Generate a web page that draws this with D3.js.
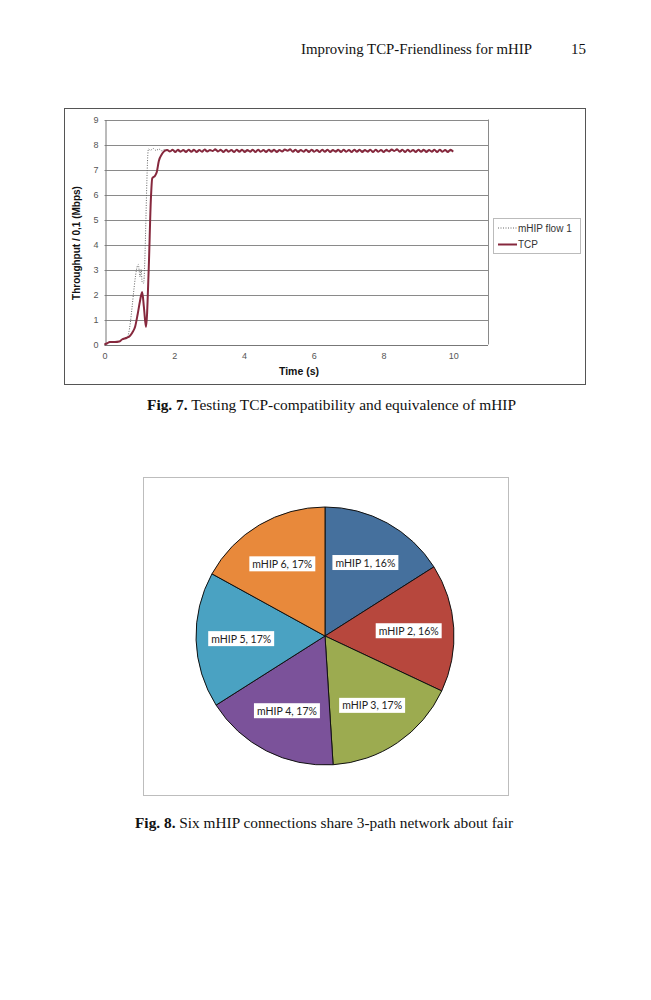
<!DOCTYPE html>
<html><head><meta charset="utf-8">
<script src="https://cdn.jsdelivr.net/npm/d3@7"></script>
<style>body{margin:0;background:#fff}svg{display:block}</style>
</head><body>
<svg id="page" width="651" height="1000"></svg>
<script>
// ---------- Fig. 7 data ----------
const xTicks = [0, 2, 4, 6, 8, 10];
const yTicks = [0, 1, 2, 3, 4, 5, 6, 7, 8, 9];
const seriesNames = ["mHIP flow 1", "TCP"];

const tcpEarlyT = [0, 0.08, 0.15, 0.3, 0.42, 0.5, 0.64, 0.72, 0.8, 0.88, 0.95, 1.02, 1.08, 1.13, 1.19, 1.27, 1.33, 1.37, 1.45, 1.5, 1.56, 1.64, 1.72];
const tcpEarlyV = [0, 0.05, 0.1, 0.1, 0.12, 0.2, 0.27, 0.33, 0.48, 0.72, 1.2, 1.75, 2.1, 1.5, 0.7, 3.1, 5.8, 6.65, 6.75, 6.9, 7.35, 7.6, 7.74];
const tcpSteadyStart = 1.8, tcpSteadyEnd = 10.0;
const tcpSteadyV = [
  7.78, 7.72, 7.79, 7.70, 7.79, 7.71, 7.78, 7.70, 7.79, 7.71,
  7.79, 7.70, 7.78, 7.71, 7.80, 7.72, 7.78, 7.74, 7.81, 7.72,
  7.79, 7.70, 7.79, 7.71, 7.78, 7.70, 7.79, 7.71, 7.79, 7.70,
  7.78, 7.71, 7.79, 7.70, 7.79, 7.71, 7.78, 7.70, 7.79, 7.71,
  7.79, 7.70, 7.78, 7.72, 7.80, 7.75, 7.81, 7.71, 7.79, 7.70,
  7.78, 7.71, 7.79, 7.70, 7.79, 7.71, 7.78, 7.70, 7.79, 7.71,
  7.79, 7.70, 7.78, 7.71, 7.79, 7.70, 7.79, 7.71, 7.78, 7.70,
  7.79, 7.71, 7.79, 7.70, 7.78, 7.71, 7.79, 7.70, 7.79, 7.71,
  7.78, 7.70, 7.79, 7.72, 7.80, 7.74, 7.81, 7.71, 7.79, 7.70,
  7.79, 7.71, 7.78, 7.70, 7.79, 7.71, 7.79, 7.70, 7.78, 7.71,
  7.79, 7.70, 7.79, 7.71, 7.78, 7.70, 7.79, 7.71
];

const mhipEarlyT = [0, 0.08, 0.15, 0.3, 0.42, 0.5, 0.66, 0.97, 1.02, 1.05, 1.08, 1.12, 1.26, 1.32, 1.4, 1.48, 1.56, 1.64, 1.72];
const mhipEarlyV = [0, 0.05, 0.1, 0.1, 0.12, 0.2, 0.32, 3.2, 2.7, 3.0, 2.5, 2.45, 7.82, 7.77, 7.84, 7.76, 7.82, 7.75, 7.8];
const mhipSteadyStart = 1.8, mhipSteadyEnd = 10.0;
const mhipSteadyV = [
  7.76, 7.74, 7.77, 7.73, 7.76, 7.75, 7.77, 7.73, 7.76, 7.74,
  7.77, 7.74, 7.76, 7.73, 7.77, 7.75, 7.76, 7.74, 7.77, 7.73,
  7.76, 7.74, 7.77, 7.73, 7.76, 7.75, 7.77, 7.73, 7.76, 7.74,
  7.77, 7.74, 7.76, 7.73, 7.77, 7.75, 7.76, 7.74, 7.77, 7.73,
  7.76, 7.74, 7.77, 7.73, 7.76, 7.75, 7.77, 7.73, 7.76, 7.74,
  7.77, 7.74, 7.76, 7.73, 7.77, 7.75, 7.76, 7.74, 7.77, 7.73,
  7.76, 7.74, 7.77, 7.73, 7.76, 7.75, 7.77, 7.73, 7.76, 7.74,
  7.77, 7.74, 7.76, 7.73, 7.77, 7.75, 7.76, 7.74, 7.77, 7.73,
  7.76, 7.74, 7.76
];

// ---------- Fig. 8 data ----------
const pieLabels = ["mHIP 1", "mHIP 2", "mHIP 3", "mHIP 4", "mHIP 5", "mHIP 6"];
const pieValues = [16, 16, 17, 17, 17, 17];
const pieColors = ["#45709d", "#b7473d", "#9cab50", "#7b529a", "#4aa2c2", "#e8893b"];

// ---------- page text ----------
const headerText = "Improving TCP-Friendliness for mHIP";
const pageNumber = "15";
const caption7 = ["Fig. 7.", " Testing TCP-compatibility and equivalence of mHIP"];
const caption8 = ["Fig. 8.", " Six mHIP connections share 3-path network about fair"];

const svg = d3.select("#page");
const serif = "'Liberation Serif','DejaVu Serif',serif";
const sans = "'Liberation Sans',Arial,sans-serif";

// header
svg.append("text").attr("x", 301).attr("y", 54).attr("font-family", serif).attr("font-size", 15)
  .attr("textLength", 231).attr("lengthAdjust", "spacingAndGlyphs").attr("fill", "#111").text(headerText);
svg.append("text").attr("x", 586).attr("y", 54).attr("text-anchor", "end").attr("font-family", serif)
  .attr("font-size", 15).attr("fill", "#111").text(pageNumber);

// ---------- Fig 7 ----------
const box1 = {x: 64, y: 108, w: 521, h: 276};
svg.append("rect").attr("x", box1.x + 0.5).attr("y", box1.y + 0.5).attr("width", box1.w).attr("height", box1.h)
  .attr("fill", "#fff").attr("stroke", "#555").attr("stroke-width", 1);

const plot = {l: 104.5, r: 488, t: 119.5, b: 344.5};
const x = d3.scaleLinear().domain([0, 11]).range([plot.l, plot.r]);
const y = d3.scaleLinear().domain([0, 9]).range([plot.b, plot.t]);

const g1 = svg.append("g");
g1.selectAll("line.grid").data(yTicks.filter(d => d > 0)).join("line")
  .attr("x1", plot.l).attr("x2", plot.r).attr("y1", d => Math.round(y(d)) + 0.5).attr("y2", d => Math.round(y(d)) + 0.5)
  .attr("stroke", "#8a8a8a").attr("stroke-width", 1);
g1.append("line").attr("x1", plot.r + 0.5).attr("x2", plot.r + 0.5).attr("y1", plot.t).attr("y2", plot.b)
  .attr("stroke", "#8a8a8a");

const xAxis = d3.axisBottom(x).tickValues(xTicks).tickSize(0).tickPadding(7);
const yAxis = d3.axisLeft(y).tickValues(yTicks).tickSize(0).tickPadding(7);
const gx = svg.append("g").attr("transform", `translate(0,${Math.round(plot.b) + 0.5})`).call(xAxis);
const gy = svg.append("g").attr("transform", `translate(${Math.round(plot.l) + 0.5},0)`).call(yAxis);
[gx, gy].forEach(g => {
  g.select(".domain").attr("stroke", "#777");
  g.selectAll("text").attr("font-family", sans).attr("font-size", 9).attr("fill", "#555");
});
gx.select(".domain").attr("d", `M${plot.l},0H${plot.r}`);

svg.append("text").attr("transform", `translate(80,243) rotate(-90)`).attr("text-anchor", "middle")
  .attr("font-family", sans).attr("font-weight", "bold").attr("font-size", 10).attr("fill", "#111")
  .text("Throughput / 0,1 (Mbps)");
svg.append("text").attr("x", 299).attr("y", 375).attr("text-anchor", "middle")
  .attr("font-family", sans).attr("font-weight", "bold").attr("font-size", 10.5).attr("fill", "#111")
  .text("Time (s)");

function buildSeries(earlyT, earlyV, start, end, steady) {
  const pts = earlyT.map((t, i) => [t, earlyV[i]]);
  const n = steady.length;
  steady.forEach((v, i) => pts.push([start + (end - start) * i / (n - 1), v]));
  return pts;
}
const mhipPts = buildSeries(mhipEarlyT, mhipEarlyV, mhipSteadyStart, mhipSteadyEnd, mhipSteadyV);
const tcpPts = buildSeries(tcpEarlyT, tcpEarlyV, tcpSteadyStart, tcpSteadyEnd, tcpSteadyV);

const tcpColor = "#86283d";
const line = d3.line().x(d => x(d[0])).y(d => y(d[1])).curve(d3.curveMonotoneX);
svg.append("path").datum(mhipPts).attr("d", line).attr("fill", "none")
  .attr("stroke", "#666").attr("stroke-width", 1).attr("stroke-dasharray", "1,1.5");
svg.append("path").datum(tcpPts).attr("d", line).attr("fill", "none")
  .attr("stroke", tcpColor).attr("stroke-width", 2).attr("stroke-linejoin", "round");

const lg = svg.append("g");
lg.append("rect").attr("x", 493.5).attr("y", 218.5).attr("width", 87).attr("height", 35)
  .attr("fill", "#fff").attr("stroke", "#bbb");
const legendStyles = [{dash: "1,1.5", color: "#666", w: 1}, {dash: null, color: tcpColor, w: 2}];
seriesNames.forEach((name, i) => {
  const yy = 228 + i * 16.5;
  lg.append("line").attr("x1", 498).attr("x2", 517).attr("y1", yy).attr("y2", yy)
    .attr("stroke", legendStyles[i].color).attr("stroke-width", legendStyles[i].w)
    .attr("stroke-dasharray", legendStyles[i].dash);
  lg.append("text").attr("x", 518).attr("y", yy + 3.5).attr("font-family", sans).attr("font-size", 10)
    .attr("fill", "#333").text(name);
});

function caption(parts, x0, yb, len) {
  const t = svg.append("text").attr("x", x0).attr("y", yb).attr("font-family", serif).attr("font-size", 14)
    .attr("fill", "#111").attr("textLength", len).attr("lengthAdjust", "spacingAndGlyphs");
  t.append("tspan").attr("font-weight", "bold").text(parts[0]);
  t.append("tspan").text(parts[1]);
}
caption(caption7, 147, 410, 369);

// ---------- Fig 8 ----------
svg.append("rect").attr("x", 143.5).attr("y", 477.5).attr("width", 365).attr("height", 318)
  .attr("fill", "#fff").attr("stroke", "#bdbdbd");

const cx = 325, cy = 636, R = 129;
const pie = d3.pie().sort(null).value(d => d.v);
const pieData = pie(pieLabels.map((l, i) => ({l, v: pieValues[i], c: pieColors[i]})));
const arc = d3.arc().innerRadius(0).outerRadius(R);
const labelArc = d3.arc().innerRadius(R * 0.65).outerRadius(R * 0.65);
const pg = svg.append("g").attr("transform", `translate(${cx},${cy})`);
pg.selectAll("path").data(pieData).join("path").attr("d", arc)
  .attr("fill", d => d.data.c).attr("stroke", "#111").attr("stroke-width", 1);

const labels = pg.selectAll("g.lab").data(pieData).join("g").attr("class", "lab")
  .attr("transform", d => `translate(${labelArc.centroid(d)})`);
labels.each(function (d) {
  const g = d3.select(this);
  const t = g.append("text").attr("text-anchor", "middle").attr("y", 4)
    .attr("font-family", "Lato,'Open Sans',sans-serif").attr("font-size", 10.5).attr("fill", "#222")
    .text(`${d.data.l}, ${d.data.v}%`);
  const bb = t.node().getBBox();
  g.insert("rect", "text").attr("x", bb.x - 3).attr("y", -7.5).attr("width", bb.width + 6).attr("height", 15)
    .attr("fill", "#fff");
});

caption(caption8, 135, 828, 378);
</script>
</body></html>
